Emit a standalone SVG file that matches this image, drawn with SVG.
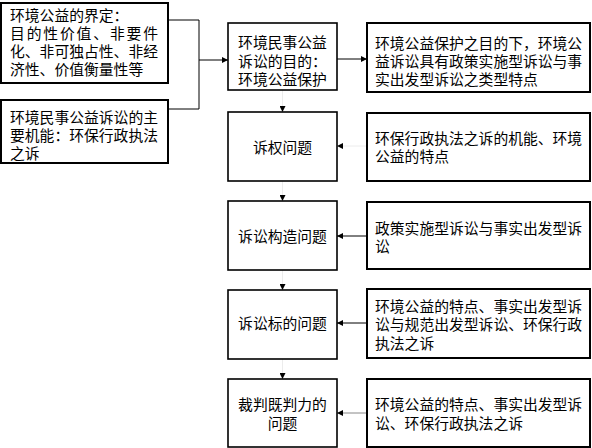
<svg xmlns="http://www.w3.org/2000/svg" width="592" height="448" viewBox="0 0 592 448">
<style>
rect.box{fill:#fff;stroke:#000;stroke-width:2}
rect.mid{stroke-width:1.6}
text{font-family:"Liberation Sans","Noto Sans CJK SC","Noto Sans CJK TC",sans-serif;font-size:14.8px;fill:#000;dominant-baseline:central}
text.c{text-anchor:middle}
.conn{fill:none;stroke:#000;stroke-width:1}
.faint{stroke:#ececec}
.gray{stroke:#888}
</style>
<defs>
<marker id="ah" markerWidth="6" markerHeight="6" refX="6" refY="3" orient="auto" markerUnits="userSpaceOnUse">
<path d="M0,0 L6,3 L0,6 z" fill="#000"/>
</marker>
</defs>
<rect width="592" height="448" fill="#fff"/>
<g id="connectors">
<polyline class="conn" points="168,20 199,20 199,109 168,109"/>
<line class="conn" x1="199" y1="60" x2="228" y2="60" marker-end="url(#ah)"/>
<line class="conn" x1="337" y1="59" x2="367" y2="59" marker-end="url(#ah)"/>
<line class="conn faint" x1="282.5" y1="90" x2="282.5" y2="112" marker-end="url(#ah)"/>
<line class="conn faint" x1="282.5" y1="181" x2="282.5" y2="201" marker-end="url(#ah)"/>
<line class="conn faint" x1="282.5" y1="270" x2="282.5" y2="290" marker-end="url(#ah)"/>
<line class="conn faint" x1="282.5" y1="359" x2="282.5" y2="379" marker-end="url(#ah)"/>
<line class="conn faint" x1="367" y1="146" x2="337" y2="146" marker-end="url(#ah)"/>
<line class="conn" x1="367" y1="236" x2="337" y2="236" marker-end="url(#ah)"/>
<line class="conn" x1="367" y1="323" x2="337" y2="323" marker-end="url(#ah)"/>
<line class="conn gray" x1="367" y1="413" x2="337" y2="413" marker-end="url(#ah)"/>
</g>
<g id="def">
<rect class="box" x="1" y="3" width="167" height="80"/>
<text x="10" y="15.5">环境公益的界定：</text>
<text x="10" y="33.5" textLength="148" lengthAdjust="spacing">目的性价值、非要件</text>
<text x="10" y="51.5" textLength="148" lengthAdjust="spacing">化、非可独占性、非经</text>
<text x="10" y="69.5">济性、价值衡量性等</text>
</g>
<g id="func">
<rect class="box" x="1" y="100" width="167" height="63"/>
<text x="10" y="118" textLength="148" lengthAdjust="spacing">环境民事公益诉讼的主</text>
<text x="10" y="136" textLength="148" lengthAdjust="spacing">要机能：环保行政执法</text>
<text x="10" y="154">之诉</text>
</g>
<g id="purpose">
<rect class="box mid" x="228" y="23" width="109" height="67"/>
<text class="c" x="282.5" y="43">环境民事公益</text>
<text class="c" x="282.5" y="61.5">诉讼的目的：</text>
<text class="c" x="282.5" y="80">环境公益保护</text>
</g>
<g id="type">
<rect class="box" x="367" y="23" width="223" height="69"/>
<text x="375" y="43.5">环境公益保护之目的下，环境公</text>
<text x="375" y="61.5">益诉讼具有政策实施型诉讼与事</text>
<text x="375" y="79.5">实出发型诉讼之类型特点</text>
</g>
<g id="standing">
<rect class="box mid" x="228" y="112" width="109" height="69"/>
<text class="c" x="282.5" y="147.5">诉权问题</text>
</g>
<g id="standing-note">
<rect class="box" x="367" y="113" width="223" height="68"/>
<text x="375" y="138.5">环保行政执法之诉的机能、环境</text>
<text x="375" y="157">公益的特点</text>
</g>
<g id="structure">
<rect class="box mid" x="228" y="201" width="109" height="69"/>
<text class="c" x="282.5" y="236.5">诉讼构造问题</text>
</g>
<g id="structure-note">
<rect class="box" x="367" y="202" width="223" height="67"/>
<text x="375" y="228.5">政策实施型诉讼与事实出发型诉</text>
<text x="375" y="247">讼</text>
</g>
<g id="object">
<rect class="box mid" x="228" y="290" width="109" height="69"/>
<text class="c" x="282.5" y="323.5">诉讼标的问题</text>
</g>
<g id="object-note">
<rect class="box" x="367" y="289" width="223" height="69"/>
<text x="375" y="306.5">环境公益的特点、事实出发型诉</text>
<text x="375" y="325">讼与规范出发型诉讼、环保行政</text>
<text x="375" y="343.5">执法之诉</text>
</g>
<g id="resjudicata">
<rect class="box mid" x="228" y="379" width="109" height="68"/>
<text class="c" x="282.5" y="405">裁判既判力的</text>
<text class="c" x="282.5" y="423.5">问题</text>
</g>
<g id="resjudicata-note">
<rect class="box" x="367" y="379" width="223" height="68"/>
<text x="375" y="405">环境公益的特点、事实出发型诉</text>
<text x="375" y="423.5">讼、环保行政执法之诉</text>
</g>
</svg>
